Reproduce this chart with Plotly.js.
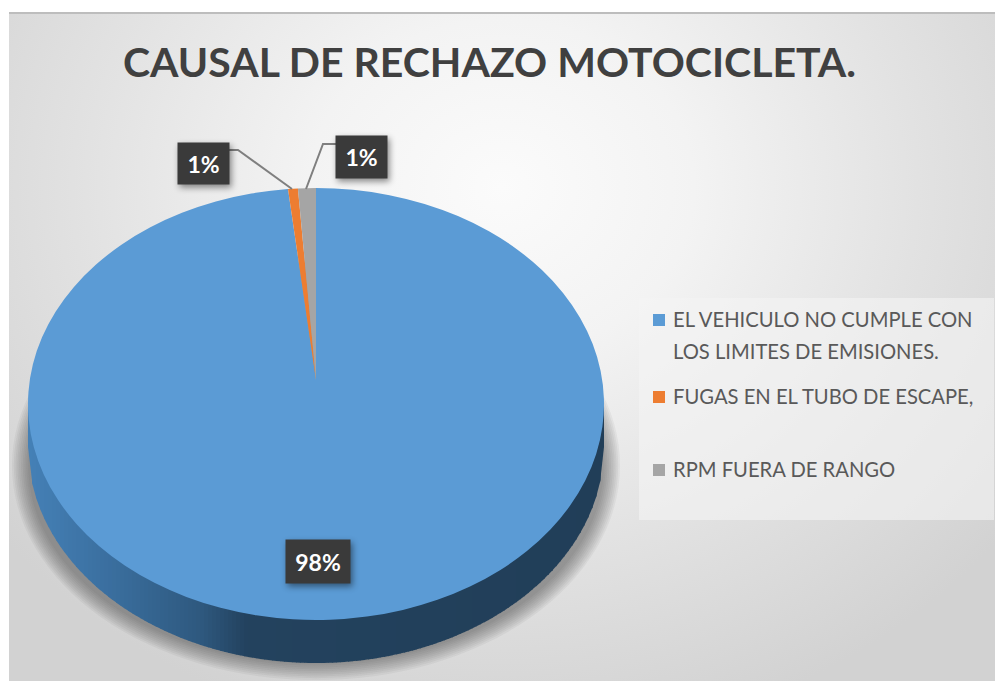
<!DOCTYPE html>
<html><head><meta charset="utf-8">
<script src="https://cdn.plot.ly/plotly-3.0.1.min.js"></script>
<style>
html,body{margin:0;padding:0;background:#fff;overflow:hidden}
#frame{position:absolute;left:9px;top:12px;width:986px;height:669px;border-top:2px solid #bdbdbd;box-sizing:border-box;
background:radial-gradient(ellipse 640px 560px at 50% 26%,#fbfbfb 0%,#f3f3f3 30%,#e2e2e2 65%,#d2d2d2 100%)}
#chart{position:absolute;left:0;top:0;width:995px;height:686px}
</style></head><body>
<div id="frame"></div><div id="chart"></div>
<script>
const categories=["EL VEHICULO NO CUMPLE CON<br>LOS LIMITES DE EMISIONES.","FUGAS EN EL TUBO DE ESCAPE,<br> ","RPM FUERA DE RANGO"];
const values=[98.45,0.55,1.0];
const colors=["#5b9bd5","#ed7d31","#a5a5a5"];
const titleText="CAUSAL DE RECHAZO MOTOCICLETA.";

const W=995,H=686;
const CX=316,CY=404,RX=288,RY=216,DEPTH=43,TIP_LIFT=24;
const CY0=H/2; // centre of the un-squashed pie
const fx=x=>x/W, fy=y=>1-y/H;

// soft shadow under the disc
const shapes=[];
for(let i=0;i<10;i++){
  const g=i*1.8;
  shapes.push({type:'circle',xref:'paper',yref:'paper',layer:'below',line:{width:0},fillcolor:'rgba(60,60,60,0.055)',
    x0:fx(CX-RX-16+g),x1:fx(CX+RX+16-g),y0:fy(CY+DEPTH+RY+17-g),y1:fy(CY+DEPTH-RY+20+g)});
}
// side wall of the disc
function wallColor(x){
  const stops=[[28,[68,128,182]],[110,[58,110,158]],[200,[46,88,126]],[245,[35,66,94]],[604,[33,62,88]]];
  for(let i=1;i<stops.length;i++){ if(x<=stops[i][0]){
    const a=stops[i-1],b=stops[i],t=(x-a[0])/(b[0]-a[0]);
    return 'rgb('+a[1].map((v,k)=>Math.round(v+(b[1][k]-v)*t)).join(',')+')';
  }}
  return 'rgb(33,62,88)';
}
const step=4;
for(let x=CX-RX;x<CX+RX;x+=step){
  const ell=v=>RY*Math.sqrt(Math.max(0,1-Math.pow((v-CX)/RX,2)));
  const x2=Math.min(x+step+0.6,CX+RX);
  const c=wallColor(x);
  const path='M'+fx(x)+','+fy(CY+ell(x)-2)+'L'+fx(x2)+','+fy(CY+ell(x2)-2)+'L'+fx(x2)+','+fy(CY+ell(x2)+DEPTH)+'L'+fx(x)+','+fy(CY+ell(x)+DEPTH)+'Z';
  shapes.push({type:'path',xref:'paper',yref:'paper',layer:'below',path:path,fillcolor:c,line:{width:0}});
}
// legend panel
shapes.push({type:'rect',xref:'paper',yref:'paper',layer:'below',x0:fx(639),x1:fx(994),y0:fy(298),y1:fy(520),fillcolor:'rgba(244,244,244,0.62)',line:{width:0}});
// leader lines
const leaders=[[[227,150],[238,150],[292,189]],[[336,144],[323,144],[306,189]]];
leaders.forEach(l=>shapes.push({type:'path',xref:'paper',yref:'paper',layer:'above',
  path:'M'+l.map(p=>fx(p[0])+','+fy(p[1])).join('L'),line:{color:'#7f7f7f',width:2}}));

const total=values.reduce((a,b)=>a+b,0);
const pct=values.map(v=>Math.round(v/total*100)+'%');
const labelPos=[[318,561,62,41],[203,163,49,39],[361,157,49,40]];
const annotations=pct.map((t,i)=>({xref:'paper',yref:'paper',x:fx(labelPos[i][0]),y:fy(labelPos[i][1]),text:'<b>'+t+'</b>',showarrow:false,
  xanchor:'center',yanchor:'middle',width:labelPos[i][2],height:labelPos[i][3],bgcolor:'#3a3a3a',
  font:{family:'Lato, sans-serif',size:23,color:'#ffffff'},align:'center',valign:'middle'}));

const data=[{type:'pie',labels:categories,values:values,sort:false,direction:'clockwise',rotation:0,
  marker:{colors:colors,line:{width:0}},textinfo:'none',hoverinfo:'label+percent',
  domain:{x:[fx(CX-RX),fx(CX+RX)],y:[(CY0-RX)/H,(CY0+RX)/H]}}];
const layout={width:W,height:H,margin:{l:0,r:0,t:0,b:0},paper_bgcolor:'rgba(0,0,0,0)',plot_bgcolor:'rgba(0,0,0,0)',
  title:{text:'<b>'+titleText+'</b>',x:489.5/W,xanchor:'center',y:1-63/H,yanchor:'middle',font:{family:'Lato, sans-serif',size:41,color:'#404040'}},
  showlegend:true,
  legend:{x:fx(645),y:fy(300),xanchor:'left',yanchor:'top',bgcolor:'rgba(0,0,0,0)',font:{family:'Lato, sans-serif',size:20.2,color:'#595959'},itemclick:false,itemdoubleclick:false,traceorder:'normal'},
  shapes:shapes,annotations:annotations};
Plotly.newPlot('chart',data,layout,{displayModeBar:false,responsive:false}).then(gd=>{
  // squash the pie into the tilted ellipse
  const pl=gd.querySelector('.pielayer');
  pl.setAttribute('transform','translate(0,'+CY+') scale(1,'+(RY/RX)+') translate(0,'+(-CY0)+')');
  // perspective: the slices meet a little above the ellipse centre
  const lift=TIP_LIFT*RX/RY;
  pl.querySelectorAll('path.surface').forEach(p=>{
    const d=p.getAttribute('d');
    const m=d.match(/^M([\d.\-e]+),([\d.\-e]+)(l)([\d.\-e]+),([\d.\-e]+)/);
    if(m){
      p.setAttribute('d','M'+m[1]+','+(+m[2]-lift)+'l'+m[4]+','+(+m[5]+lift)+d.slice(m[0].length));
    } else {
      const n=d.match(/^M([\d.\-e]+),([\d.\-e]+)/);
      if(n) p.setAttribute('d','M'+n[1]+','+(+n[2]-lift)+d.slice(n[0].length));
    }
  });
  // legend: Office-style line spacing
  const lg=gd.querySelector('.legend');
  lg.querySelectorAll('[clip-path]').forEach(e=>e.removeAttribute('clip-path'));
  const rows=[[320,352],[397],[470]];
  const ltx=lg.getAttribute('transform').match(/translate\(([\d.\-]+)[, ]+([\d.\-]+)/);
  const ly=parseFloat(ltx[2]);
  lg.querySelectorAll('.traces').forEach((t,i)=>{
    t.setAttribute('transform','translate(0,'+(rows[i][0]-ly)+')');
    const txt=t.querySelector('.legendtext');
    txt.setAttribute('x',28);
    const lines=txt.querySelectorAll('tspan.line');
    lines.forEach((s,k)=>{s.removeAttribute('dy');s.setAttribute('x',28);s.setAttribute('y',(k==0?6.5:(rows[i][1]?rows[i][1]-rows[i][0]+6.5:40)));});
    if(!lines.length){txt.setAttribute('y',6.5);}
    const lp=t.querySelector('.legendpie path, .legendpoints path');
    if(lp) lp.setAttribute('transform','translate(14,0)');
  });
  gd.querySelectorAll('.annotation rect.bg, .annotation-text-g rect').forEach(r=>{r.style.filter='drop-shadow(2px 3px 3px rgba(0,0,0,.45))';});
});
</script>
</body></html>
